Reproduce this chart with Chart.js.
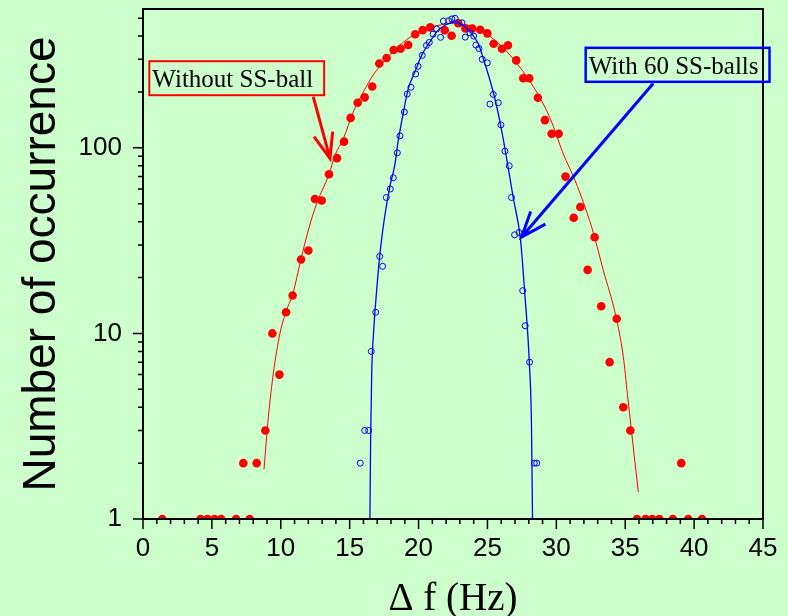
<!DOCTYPE html>
<html>
<head>
<meta charset="utf-8">
<script src="https://cdn.jsdelivr.net/npm/chart.js@4.4.0/dist/chart.umd.min.js"></script>
<style>
    html, body { margin: 0; padding: 0; background: #ccffcc; }
</style>
</head>
<body>
<canvas id="histChart" width="788" height="616"></canvas>
<script>
// Sin bolas SS: desplazamiento de frecuencia (Hz) y número de ocurrencias
const freqSin = [1.4, 4.17, 4.68, 5.19, 5.67, 6.76, 7.28, 7.74, 8.25, 8.88, 9.39, 9.9, 10.38, 10.86, 11.47, 12.0, 12.48, 12.97,
    13.5, 14.08, 14.59, 15.07, 15.58, 16.09, 16.64, 17.15, 17.68, 18.19, 18.7, 19.25, 19.76, 20.3, 20.85, 21.9, 22.4, 22.88,
    23.4, 23.9, 24.48, 24.99, 25.45, 26.05, 26.49, 27.09, 27.6, 28.03, 28.66, 29.17, 29.66, 30.17, 30.67, 31.26, 31.74, 32.27,
    32.78, 33.26, 33.87, 34.38, 34.86, 35.37, 35.85, 36.48, 36.96, 37.47, 38.46, 39.07, 39.57, 40.57];
const cuentaSin = [1, 1, 1, 1, 1, 1, 2, 1, 2, 3, 10, 6, 13, 16, 25, 28, 53, 52,
    72, 88, 108, 145, 175, 187, 214, 285, 305, 337, 342, 358, 409, 431, 446, 430, 402, 469,
    440, 440, 433, 414, 364, 342, 357, 296, 237, 237, 186, 141, 119, 119, 70, 42, 48, 22,
    33, 14, 7, 12, 4, 3, 1, 1, 1, 1, 1, 2, 1, 1];

// Con 60 bolas SS
const freqCon = [15.77, 16.09, 16.38, 16.57, 16.89, 17.18, 17.39, 17.66, 17.95, 18.17, 18.46, 18.65, 18.97, 19.18, 19.45,
    19.79, 19.96, 20.27, 20.57, 20.78, 21.05, 21.31, 21.6, 21.8, 22.18, 22.42, 22.65, 23.15, 23.39, 23.73, 24.0, 24.16,
    24.38, 24.62, 24.99, 25.18, 25.42, 25.79, 25.98, 26.27, 26.58, 26.75, 26.97, 27.29, 27.56, 27.74, 28.06, 28.4, 28.58];
const cuentaCon = [2, 3, 3, 8, 13, 26, 23, 54, 60, 69, 94, 116, 156, 195, 212,
    250, 275, 315, 356, 370, 410, 437, 394, 482, 484, 495, 499, 472, 395, 417, 400, 358,
    343, 300, 287, 172, 194, 175, 133, 96, 80, 54, 34, 35, 17, 11, 7, 2, 2];

// Curvas de ajuste (leídas punto a punto)
const ajusteSinX = [8.78, 9.1, 9.46, 9.94, 10.38, 10.86, 11.47, 12.0, 12.6, 13.5, 13.93, 14.54, 15.26, 15.99, 16.71,
    17.68, 18.65, 19.62, 20.59, 21.55, 22.52, 23.49, 24.2, 24.7, 25.67, 26.64, 27.6, 28.57, 29.54, 30.5, 31.35, 32.08,
    32.73, 33.4, 34.3, 34.86, 35.16, 35.45, 35.95];
const ajusteSinY = [1.85, 3.55, 6.1, 10, 13.1, 16.2, 25.2, 36, 50, 72, 91, 112, 156, 200, 247,
    303, 358, 405, 440, 459, 469, 459, 440, 422, 373, 316, 257, 200, 145, 93, 67, 48,
    34, 22, 12.6, 7.5, 4.7, 3.0, 1.4];
const ajusteConX = [16.47, 16.52, 16.6, 16.76, 16.96, 17.2, 17.57, 17.92, 18.29, 18.53, 18.77, 19.26, 19.74, 20.23,
    20.83, 21.31, 21.92, 22.52, 23.13, 23.73, 24.33, 24.7, 25.42, 25.91, 26.27, 26.87, 27.4, 27.71, 28.03, 28.2, 28.27];
const ajusteConY = [1, 2.66, 6.1, 10.8, 17.1, 27, 44, 62, 82, 110, 138, 209, 257, 316,
    373, 422, 458, 474, 463, 422, 365, 303, 200, 138, 99, 54, 32, 16.4, 7.2, 3.1, 1];

// Etiquetas del eje Y
const ticksY = [1, 10, 100];

// Notas con flecha: caja (esquina sup. izq.) y flecha (origen -> punta), en unidades de datos
const notas = [
    { texto: 'Without SS-ball', color: 'red', lw: 2, x: 0.46, y: 293, desde: [12.36, 188], punta: [13.57, 87.7] },
    { texto: 'With 60 SS-balls', color: 'blue', lw: 2.5, x: 32.13, y: 346, desde: [37.03, 222], punta: [27.48, 33.1] }
];

const aPuntos = (xs, ys) => xs.map((x, i) => ({ x: x, y: ys[i] }));

// Fondo, marco, marcas de los ejes y notas
const decorado = {
    id: 'decorado',
    beforeDraw(chart) {
        const ctx = chart.ctx;
        ctx.save();
        ctx.fillStyle = '#ccffcc';
        ctx.fillRect(0, 0, chart.width, chart.height);
        ctx.restore();
    },
    afterDraw(chart) {
        const { ctx, chartArea: a, scales: { x, y } } = chart;
        ctx.save();
        ctx.strokeStyle = '#000';
        ctx.lineWidth = 1.5;
        ctx.beginPath();
        for (let v = 0; v <= 45; v++) {
            const px = x.getPixelForValue(v);
            ctx.moveTo(px, a.bottom);
            ctx.lineTo(px, a.bottom + (v % 5 === 0 ? 10 : 5));
        }
        for (const d of [1, 10, 100]) {
            for (let m = 1; m <= 9; m++) {
                const v = m * d;
                if (v > y.max) break;
                const py = y.getPixelForValue(v);
                ctx.moveTo(a.left, py);
                ctx.lineTo(a.left - (m === 1 ? 10 : 5), py);
            }
        }
        ctx.stroke();
        ctx.lineWidth = 2;
        ctx.strokeRect(a.left, a.top, a.right - a.left, a.bottom - a.top);

        ctx.font = '25px "Liberation Serif"';
        ctx.textBaseline = 'alphabetic';
        notas.forEach(n => {
            const bx = x.getPixelForValue(n.x);
            const by = y.getPixelForValue(n.y);
            const w = ctx.measureText(n.texto).width + 14;
            ctx.fillStyle = '#000';
            ctx.fillText(n.texto, bx + 3, by + 26);
            ctx.strokeStyle = n.color;
            ctx.lineWidth = n.lw;
            ctx.strokeRect(bx, by, w, 34);

            const x0 = x.getPixelForValue(n.desde[0]), y0 = y.getPixelForValue(n.desde[1]);
            const x1 = x.getPixelForValue(n.punta[0]), y1 = y.getPixelForValue(n.punta[1]);
            const ang = Math.atan2(y0 - y1, x0 - x1);
            const abre = 21 * Math.PI / 180, largo = 27;
            ctx.lineWidth = 3;
            ctx.beginPath();
            ctx.moveTo(x0, y0);
            ctx.lineTo(x1, y1);
            ctx.moveTo(x1 + largo * Math.cos(ang - abre), y1 + largo * Math.sin(ang - abre));
            ctx.lineTo(x1, y1);
            ctx.lineTo(x1 + largo * Math.cos(ang + abre), y1 + largo * Math.sin(ang + abre));
            ctx.stroke();
        });
        ctx.restore();
    }
};

// Quitar el relleno automático que Chart.js reserva para las etiquetas extremas
function sinRelleno(scale) {
    scale.paddingTop = 0;
    scale.paddingBottom = 0;
    scale.paddingLeft = 0;
    scale.paddingRight = 0;
}

function crearGrafico() {
    const ctx = document.getElementById('histChart').getContext('2d');
    new Chart(ctx, {
        type: 'scatter',
        data: {
            datasets: [
                {
                    label: 'Con 60 bolas',
                    data: aPuntos(freqCon, cuentaCon),
                    pointStyle: 'circle',
                    pointRadius: 3,
                    pointBorderWidth: 1,
                    borderColor: 'blue',
                    backgroundColor: 'rgba(0,0,0,0)'
                },
                {
                    label: 'Ajuste con bolas',
                    data: aPuntos(ajusteConX, ajusteConY),
                    showLine: true,
                    pointRadius: 0,
                    borderColor: 'blue',
                    borderWidth: 1.3,
                    cubicInterpolationMode: 'monotone'
                },
                {
                    label: 'Sin bolas',
                    data: aPuntos(freqSin, cuentaSin),
                    pointStyle: 'circle',
                    pointRadius: 4.3,
                    pointBorderWidth: 0,
                    borderColor: 'red',
                    backgroundColor: 'red'
                },
                {
                    label: 'Ajuste sin bolas',
                    data: aPuntos(ajusteSinX, ajusteSinY),
                    showLine: true,
                    pointRadius: 0,
                    borderColor: 'red',
                    borderWidth: 1,
                    cubicInterpolationMode: 'monotone'
                }
            ]
        },
        options: {
            responsive: false,
            animation: false,
            layout: { padding: { top: 9, right: 25, left: 0, bottom: 0 } },
            plugins: {
                legend: { display: false },
                tooltip: { enabled: false }
            },
            scales: {
                x: {
                    type: 'linear',
                    min: 0,
                    max: 45,
                    grid: { display: false, drawTicks: true, tickLength: 10 },
                    border: { display: false },
                    ticks: {
                        stepSize: 5,
                        padding: 4,
                        color: '#000',
                        font: { family: 'Liberation Sans', size: 26 }
                    },
                    title: {
                        display: true,
                        text: 'Δ f (Hz)',
                        color: '#000',
                        font: { family: 'Liberation Serif', size: 39, lineHeight: 1 },
                        padding: { top: 0, bottom: -3 }
                    },
                    afterFit(scale) {
                        scale.height = 97;
                        sinRelleno(scale);
                    }
                },
                y: {
                    type: 'logarithmic',
                    min: 1,
                    max: 560,
                    grid: { display: false, drawTicks: true, tickLength: 10 },
                    border: { display: false },
                    afterBuildTicks(scale) {
                        scale.ticks = ticksY.map(v => ({ value: v }));
                    },
                    ticks: {
                        padding: 11,
                        color: '#000',
                        font: { family: 'Liberation Sans', size: 26 },
                        callback: v => String(v)
                    },
                    title: {
                        display: true,
                        text: 'Number of occurrence',
                        color: '#000',
                        font: { family: 'Liberation Sans', size: 46, lineHeight: 1 },
                        padding: { top: 19, bottom: 0 }
                    },
                    afterFit(scale) {
                        scale.width = 143;
                        sinRelleno(scale);
                    }
                }
            }
        },
        plugins: [decorado]
    });
}

document.addEventListener('DOMContentLoaded', () => {
    crearGrafico();
});
</script>
</body>
</html>
